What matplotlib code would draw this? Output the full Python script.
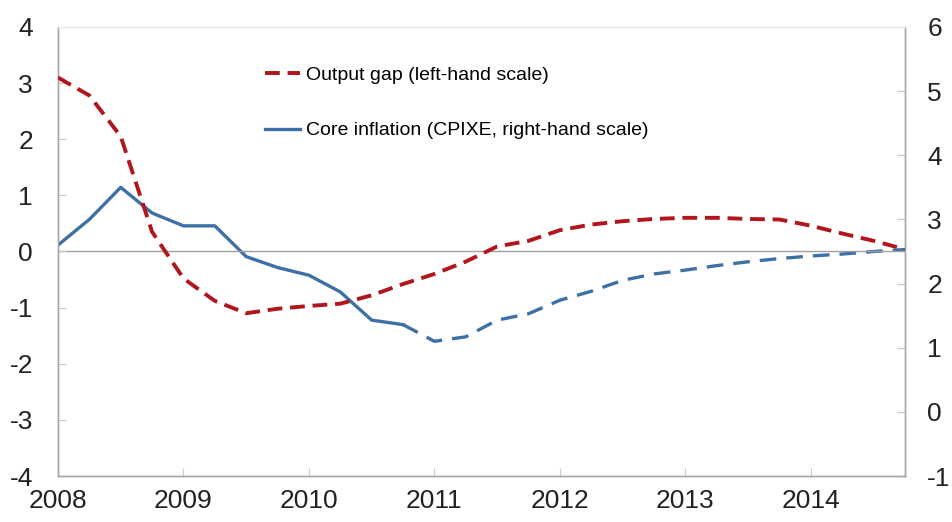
import matplotlib.pyplot as plt
import matplotlib.font_manager as fm

names = {f.name for f in fm.fontManager.ttflist}
fam = 'Liberation Sans Narrow' if 'Liberation Sans Narrow' in names else 'Liberation Sans'
plt.rcParams['font.family'] = [fam, 'DejaVu Sans']
plt.rcParams['axes.unicode_minus'] = False

# quarterly time points
quarters = [2008 + 0.25 * i for i in range(28)]

# output gap, left-hand scale
output_gap = [3.1, 2.78, 2.05, 0.35, -0.48, -0.88, -1.1, -1.02,
              -0.97, -0.93, -0.78, -0.58, -0.4, -0.18, 0.09, 0.19,
              0.38, 0.48, 0.54, 0.58, 0.6, 0.6, 0.58, 0.57,
              0.46, 0.32, 0.19, 0.04]

# core inflation (CPIXE), right-hand scale; history up to 2010.75, then projection
core_infl = [2.6, 3.0, 3.5, 3.1, 2.9, 2.9, 2.42, 2.25,
             2.13, 1.87, 1.43, 1.36, 1.1, 1.17, 1.43, 1.53,
             1.74, 1.88, 2.05, 2.15, 2.21, 2.28, 2.34, 2.39,
             2.43, 2.46, 2.5, 2.53]
n_hist = 12

left_ticks = [-4, -3, -2, -1, 0, 1, 2, 3, 4]
right_ticks = [-1, 0, 1, 2, 3, 4, 5, 6]
year_ticks = [2008, 2009, 2010, 2011, 2012, 2013, 2014]

red = '#b0161c'
blue = '#3d70a4'
spine = '#a6a6a6'

fig = plt.figure(figsize=(9.52, 5.22), dpi=100)
ax = fig.add_axes([0.0609, 0.0881, 0.8897, 0.8602])
ax2 = ax.twinx()

ax.axhline(0, color='#a0a0a0', lw=1.0, zorder=1)

ax.plot(quarters, output_gap, color=red, lw=2.8, dashes=(3.8, 2.0),
        label='Output gap (left-hand scale)', zorder=3)
ax2.plot(quarters[:n_hist], core_infl[:n_hist], color=blue, lw=2.4,
         label='Core inflation (CPIXE, right-hand scale)', zorder=3)
ax2.plot(quarters[n_hist - 1:], core_infl[n_hist - 1:], color=blue, lw=2.4,
         dashes=(5.0, 3.0), zorder=3)

ax.set_xlim(2008, 2014.75)
ax.set_ylim(-4, 4)
ax2.set_ylim(-1, 6)
ax.set_xticks(year_ticks)
ax.set_xticklabels([str(y) for y in year_ticks])
ax.set_yticks(left_ticks)
ax2.set_yticks(right_ticks)

for a in (ax, ax2):
    for s in a.spines.values():
        s.set_color(spine)
        s.set_linewidth(1.0)
    a.spines['top'].set_color('#ececec')
    a.tick_params(direction='in', length=6, color='#c8c8c8', labelsize=19,
                  labelcolor='#222222')
ax.tick_params(axis='y', pad=18)
ax2.tick_params(axis='y', pad=16)
ax.tick_params(axis='x', pad=9)
ax.set_zorder(ax2.get_zorder() + 1)
ax.patch.set_visible(False)

h1, l1 = ax.get_legend_handles_labels()
h2, l2 = ax2.get_legend_handles_labels()
leg = ax.legend(h1 + h2, l1 + l2, loc='upper left', bbox_to_anchor=(0.235, 0.93),
                borderaxespad=0, frameon=False, fontsize=14, handlelength=1.8,
                handletextpad=0.3, labelspacing=1.95)

fig.savefig('out.png', dpi=100)
